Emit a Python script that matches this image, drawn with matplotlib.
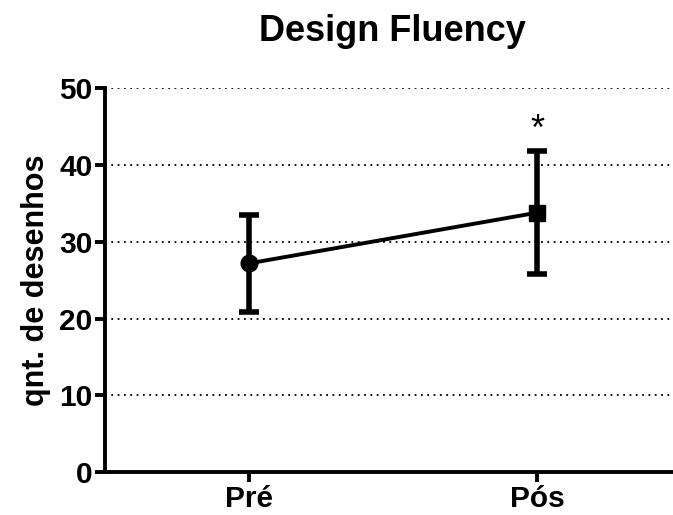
import matplotlib
matplotlib.use("Agg")
import matplotlib.pyplot as plt

plt.rcParams['font.family'] = ['Liberation Sans', 'DejaVu Sans']

groups = ["Pré", "Pós"]
means = [27.2, 33.8]
upper = [33.5, 41.8]
lower = [20.9, 25.8]
markers = ["o", "s"]
sig_label = "*"
sig_y = 43.3
yticks = [0, 10, 20, 30, 40, 50]

fig = plt.figure(figsize=(6.73, 5.15), dpi=100)
ax = fig.add_axes([0.156, 0.083, 0.856, 0.7456])

xs = list(range(len(groups)))
ax.plot(xs, means, color="black", lw=2.8, zorder=3)
for x, m, lo, hi, mk in zip(xs, means, lower, upper, markers):
    ax.errorbar(x, m, yerr=[[m - lo], [hi - m]], fmt=mk, color="black",
                ms=12, elinewidth=4, capsize=7.5, capthick=4, zorder=4)

# asterisk glyph sits high in the em box, so anchor the baseline lower
ax.text(xs[1], sig_y, sig_label, ha="center", va="baseline", fontsize=26)

ax.set_xlim(-0.5, 1.5)
ax.set_ylim(0, 50)
ax.set_yticks(yticks)
ax.set_xticks(xs)
ax.set_xticklabels(groups)
ax.yaxis.grid(True, linestyle=(0, (1, 2.5)), color="black", lw=1.3)
ax.set_axisbelow(True)

for s in ["top", "right"]:
    ax.spines[s].set_visible(False)
for s in ["left", "bottom"]:
    ax.spines[s].set_linewidth(2.8)
ax.tick_params(width=2.8, length=7, labelsize=21.5, pad=2)
for lab in ax.get_xticklabels() + ax.get_yticklabels():
    lab.set_fontweight("bold")

ax.set_ylabel("qnt. de desenhos", fontsize=22, fontweight="bold", labelpad=6)
fig.text(0.583, 0.938, "Design Fluency", ha="center", va="center",
         fontsize=26, fontweight="bold")

fig.savefig("out.png", dpi=100)
